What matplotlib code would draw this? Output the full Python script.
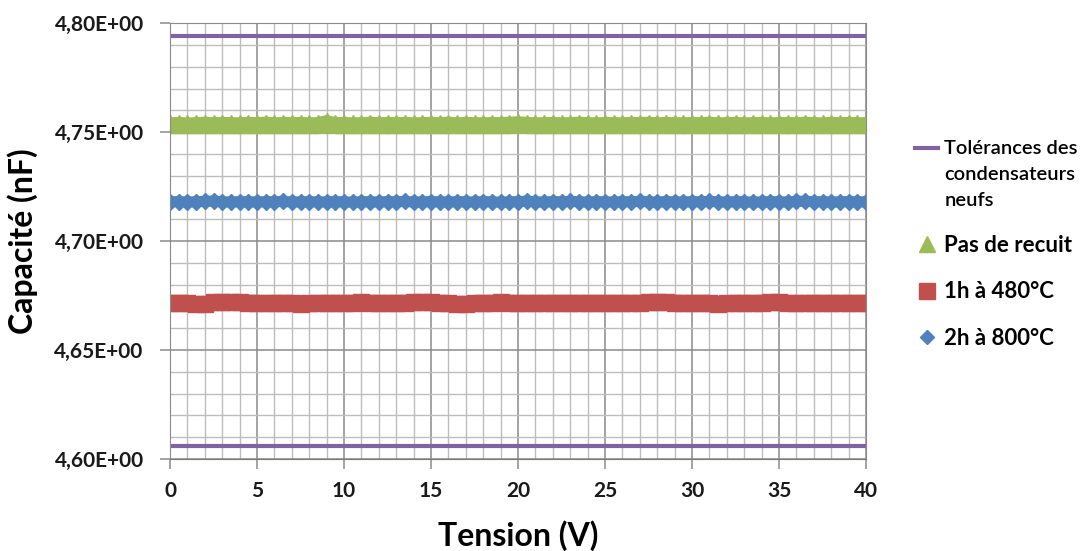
import numpy as np
import matplotlib.pyplot as plt
from matplotlib.lines import Line2D
from matplotlib.ticker import MultipleLocator, FuncFormatter

plt.rcParams['font.family'] = ['Lato', 'DejaVu Sans']

# tension de 0 a 40 V, pas de 0.5 V
tension = np.arange(0, 40.5, 0.5)

tol_basse = 4.606
tol_haute = 4.794

pas_de_recuit = [
    4.7536, 4.7538, 4.7535, 4.7537, 4.7539, 4.7536, 4.7538, 4.7537, 4.7536, 4.7538,
    4.7537, 4.7539, 4.7536, 4.7538, 4.7537, 4.7538, 4.7536, 4.7537, 4.7546, 4.7537,
    4.7538, 4.7536, 4.7537, 4.7539, 4.7536, 4.7538, 4.7537, 4.7538, 4.7536, 4.7537,
    4.7538, 4.7537, 4.7539, 4.7536, 4.7538, 4.7537, 4.7536, 4.7538, 4.7537, 4.7539,
    4.7541, 4.7538, 4.7536, 4.7537, 4.7538, 4.7536, 4.7537, 4.7539, 4.7537, 4.7536,
    4.7538, 4.7537, 4.7536, 4.7538, 4.7537, 4.7539, 4.7536, 4.7538, 4.7537, 4.7536,
    4.7538, 4.7537, 4.7539, 4.7536, 4.7537, 4.7538, 4.7536, 4.7537, 4.7538, 4.7536,
    4.7537, 4.7538, 4.7536, 4.7539, 4.7537, 4.7536, 4.7538, 4.7537, 4.7538, 4.7536,
    4.7537]

recuit_480 = [
    4.6718, 4.6718, 4.6718, 4.6712, 4.6712, 4.6720, 4.6722, 4.6722, 4.6719, 4.6718,
    4.6718, 4.6717, 4.6718, 4.6718, 4.6718, 4.6713, 4.6714, 4.6718, 4.6718, 4.6718,
    4.6718, 4.6718, 4.6719, 4.6718, 4.6718, 4.6718, 4.6718, 4.6718, 4.6720, 4.6722,
    4.6722, 4.6718, 4.6718, 4.6713, 4.6713, 4.6718, 4.6718, 4.6718, 4.6719, 4.6718,
    4.6718, 4.6718, 4.6718, 4.6718, 4.6718, 4.6718, 4.6718, 4.6718, 4.6718, 4.6718,
    4.6718, 4.6718, 4.6718, 4.6718, 4.6718, 4.6721, 4.6721, 4.6721, 4.6718, 4.6718,
    4.6718, 4.6718, 4.6718, 4.6713, 4.6714, 4.6718, 4.6718, 4.6718, 4.6718, 4.6721,
    4.6721, 4.6718, 4.6714, 4.6718, 4.6718, 4.6718, 4.6718, 4.6718, 4.6718, 4.6718,
    4.6718]

recuit_800 = [
    4.7180, 4.7181, 4.7179, 4.7180, 4.7182, 4.7184, 4.7180, 4.7179, 4.7181, 4.7180,
    4.7179, 4.7181, 4.7180, 4.7182, 4.7179, 4.7180, 4.7181, 4.7179, 4.7180, 4.7181,
    4.7180, 4.7178, 4.7181, 4.7180, 4.7179, 4.7181, 4.7180, 4.7182, 4.7179, 4.7180,
    4.7181, 4.7180, 4.7179, 4.7181, 4.7180, 4.7179, 4.7181, 4.7180, 4.7178, 4.7180,
    4.7181, 4.7183, 4.7180, 4.7179, 4.7181, 4.7180, 4.7182, 4.7180, 4.7179, 4.7181,
    4.7180, 4.7179, 4.7181, 4.7180, 4.7182, 4.7180, 4.7179, 4.7181, 4.7180, 4.7179,
    4.7181, 4.7180, 4.7182, 4.7180, 4.7179, 4.7181, 4.7180, 4.7178, 4.7180, 4.7181,
    4.7180, 4.7179, 4.7182, 4.7183, 4.7180, 4.7181, 4.7179, 4.7180, 4.7181, 4.7180,
    4.7180]

violet = '#8064A2'
vert = '#9BBB59'
rouge = '#C0504D'
bleu = '#4F81BD'

fig = plt.figure(figsize=(10.92, 5.51), dpi=100)
ax = fig.add_axes([0.1557, 0.167, 0.6374, 0.791])

# grille
ax.xaxis.set_major_locator(MultipleLocator(5))
ax.xaxis.set_minor_locator(MultipleLocator(1))
ax.yaxis.set_major_locator(MultipleLocator(0.05))
ax.yaxis.set_minor_locator(MultipleLocator(0.01))
ax.grid(which='major', color='#8a8a8a', lw=1.1)
ax.grid(which='minor', color='#bdbdbd', lw=1.0)
ax.set_axisbelow(True)

ax.plot(tension, [tol_haute] * len(tension), color=violet, lw=3)
ax.plot(tension, [tol_basse] * len(tension), color=violet, lw=3)
ax.plot(tension, pas_de_recuit, color=vert, lw=10, marker='^', ms=13, mec=vert)
ax.plot(tension, recuit_480, color=rouge, lw=11, marker='s', ms=12, mec=rouge)
ax.plot(tension, recuit_800, color=bleu, lw=8, marker='D', ms=8, mec=bleu)

ax.set_xlim(0, 40)
ax.set_ylim(4.60, 4.80)
ax.margins(0)

for s in ax.spines.values():
    s.set_color('#8a8a8a')
ax.spines['bottom'].set_color('#7a7a7a')

ax.tick_params(which='major', length=7, width=1.1, color='#8a8a8a')
ax.tick_params(axis='x', pad=9)
ax.tick_params(axis='y', pad=12)
ax.tick_params(which='minor', length=0)
ax.yaxis.set_major_formatter(FuncFormatter(lambda v, p: ('%.2fE+00' % v).replace('.', ',')))
for lab in ax.get_xticklabels() + ax.get_yticklabels():
    lab.set_fontweight('bold')
    lab.set_fontsize(15)
    lab.set_color('#1a1a1a')

ax.set_xlabel('Tension (V)', fontsize=23, fontweight='bold')
ax.set_ylabel('Capacité (nF)', fontsize=23, fontweight='bold')
ax.xaxis.set_label_coords(0.5, -0.14)
ax.yaxis.set_label_coords(-0.19, 0.5)

handles = [
    Line2D([], [], color=violet, lw=3),
    Line2D([], [], color=vert, ls='', marker='^', ms=12),
    Line2D([], [], color=rouge, ls='', marker='s', ms=12),
    Line2D([], [], color=bleu, ls='', marker='D', ms=7),
]
labels = ['Tolérances des\ncondensateurs\nneufs', 'Pas de recuit', '1h à 480°C', '2h à 800°C']
leg = fig.legend(handles, labels, loc='upper left', bbox_to_anchor=(0.82, 0.782),
                 frameon=False, handlelength=1.0, handletextpad=0.3,
                 labelspacing=1.15, prop={'weight': 'bold', 'size': 16})
leg.get_texts()[0].set_fontsize(14.5)
leg.get_texts()[0].set_fontweight('semibold')
leg.get_texts()[0].set_linespacing(1.65)
# ligne du premier element alignee sur la premiere ligne du texte
h0 = leg.legend_handles[0]
h0.set_ydata([v + 19 for v in h0.get_ydata()])

fig.savefig('out.png', dpi=100)
